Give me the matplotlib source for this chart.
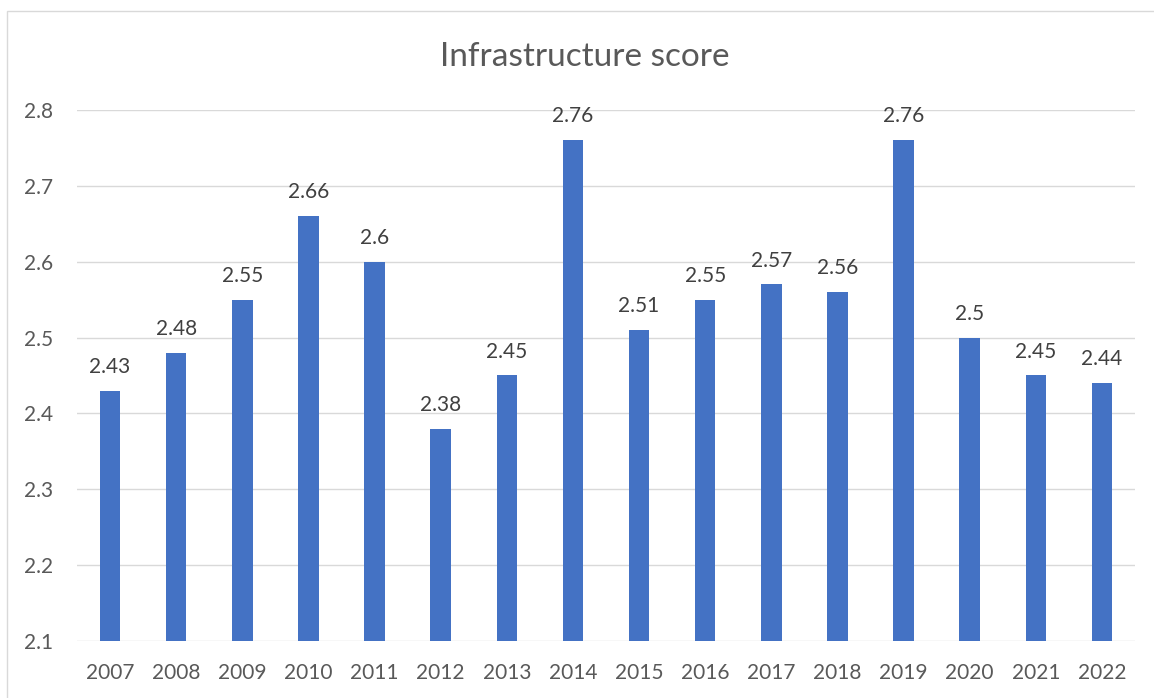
import matplotlib.pyplot as plt
from matplotlib.patches import Rectangle

# Data
years = ["2007", "2008", "2009", "2010", "2011", "2012", "2013", "2014",
         "2015", "2016", "2017", "2018", "2019", "2020", "2021", "2022"]
scores = [2.43, 2.48, 2.55, 2.66, 2.6, 2.38, 2.45, 2.76,
          2.51, 2.55, 2.57, 2.56, 2.76, 2.5, 2.45, 2.44]
labels = ["2.43", "2.48", "2.55", "2.66", "2.6", "2.38", "2.45", "2.76",
          "2.51", "2.55", "2.57", "2.56", "2.76", "2.5", "2.45", "2.44"]

plt.rcParams['font.family'] = ['Lato', 'DejaVu Sans']

fig = plt.figure(figsize=(11.54, 6.98), dpi=100)
fig.patches.append(Rectangle((7 / 1154, -0.1), 1.2, 1 - 11 / 698 + 0.1,
                             transform=fig.transFigure, fill=False,
                             edgecolor='#d9d9d9', linewidth=1))

ax = fig.add_axes([77 / 1154, 57 / 698, 1058 / 1154, 531 / 698])
x = range(len(years))
ax.bar(x, scores, width=0.31, color='#4472C4', zorder=3)

for xi, v, lab in zip(x, scores, labels):
    ax.annotate(lab, (xi, v), xytext=(0, 10), textcoords='offset points',
                ha='center', va='bottom', fontsize=15, color='#404040')

ax.set_xlim(-0.5, len(years) - 0.5)
ax.set_ylim(2.1, 2.8)
ax.set_yticks([2.1, 2.2, 2.3, 2.4, 2.5, 2.6, 2.7, 2.8])
ax.set_yticklabels(["2.1", "2.2", "2.3", "2.4", "2.5", "2.6", "2.7", "2.8"])
ax.set_xticks(list(x))
ax.set_xticklabels(years)
ax.tick_params(axis='both', length=0, labelsize=15, labelcolor='#595959')
ax.tick_params(axis='x', pad=16)
ax.tick_params(axis='y', pad=17)
ax.grid(axis='y', color='#d9d9d9', linewidth=1, zorder=0)
for s in ax.spines.values():
    s.set_visible(False)

fig.text(585 / 1154, 1 - 57 / 698, "Infrastructure score", ha='center',
         va='center', fontsize=24, color='#595959')

fig.savefig("out.png", dpi=100)
